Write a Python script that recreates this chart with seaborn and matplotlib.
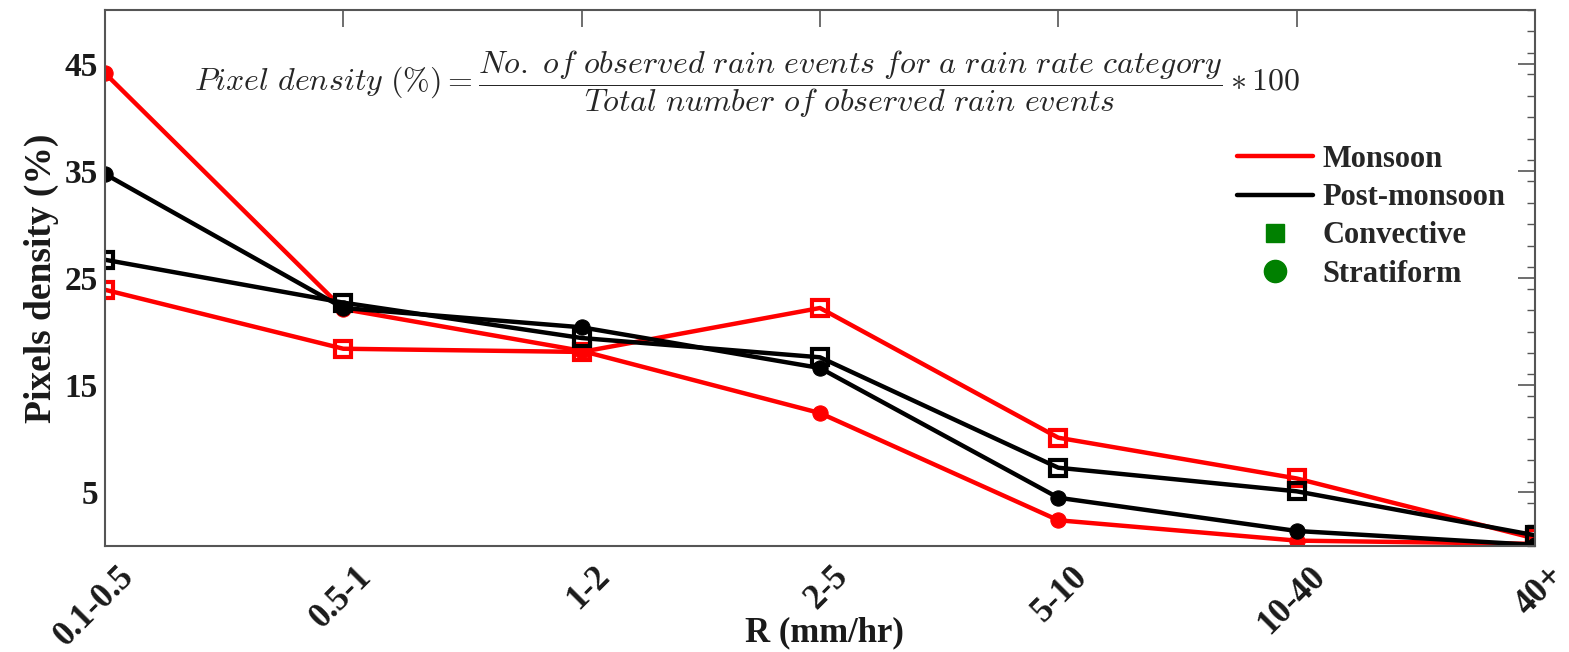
import numpy as np
import pandas as pd
import seaborn as sns
import matplotlib.pyplot as plt
import matplotlib.transforms as mtransforms
from matplotlib.lines import Line2D
from matplotlib.ticker import MultipleLocator

# rain rate categories
categories = ['0.1-0.5', '0.5-1', '1-2', '2-5', '5-10', '10-40', '40+']

# pixel density (%)
monsoon_convective = [23.9, 18.4, 18.1, 22.2, 10.1, 6.3, 0.7]
monsoon_stratiform = [44.1, 22.1, 18.2, 12.4, 2.4, 0.5, 0.2]
post_convective = [26.7, 22.7, 19.4, 17.6, 7.3, 5.1, 1.0]
post_stratiform = [34.7, 22.2, 20.4, 16.6, 4.5, 1.4, 0.1]

series = {
    ('Monsoon', 'Convective'): monsoon_convective,
    ('Monsoon', 'Stratiform'): monsoon_stratiform,
    ('Post-monsoon', 'Convective'): post_convective,
    ('Post-monsoon', 'Stratiform'): post_stratiform,
}

rows = []
for (season, kind), vals in series.items():
    for c, v in zip(categories, vals):
        rows.append({'season': season, 'type': kind, 'R': c, 'density': v})
df = pd.DataFrame(rows)

sns.set_style('white')
plt.rcParams['font.family'] = ['Liberation Serif', 'DejaVu Serif']
plt.rcParams['mathtext.fontset'] = 'cm'

colors = {'Monsoon': '#ff0000', 'Post-monsoon': '#000000'}
txt = '#1a1a1a'

fig = plt.figure(figsize=(15.69, 6.52), dpi=100)
ax = fig.add_axes([0.0669, 0.1626, 0.9114, 0.8221])

for season in ['Monsoon', 'Post-monsoon']:
    for kind in ['Convective', 'Stratiform']:
        sub = df[(df.season == season) & (df.type == kind)]
        if kind == 'Convective':
            sns.lineplot(data=sub, x='R', y='density', ax=ax, color=colors[season],
                         lw=3.2, marker='s', markersize=11, markerfacecolor='none',
                         markeredgecolor=colors[season], markeredgewidth=3,
                         sort=False, legend=False)
        else:
            sns.lineplot(data=sub, x='R', y='density', ax=ax, color=colors[season],
                         lw=3.2, marker='o', markersize=11, markerfacecolor=colors[season],
                         markeredgecolor=colors[season], sort=False, legend=False)

ax.set_xlim(0, 6)
ax.set_ylim(0, 50)
ax.set_yticks([5, 15, 25, 35, 45])
ax.yaxis.set_minor_locator(MultipleLocator(2))
ax.set_xticks(range(len(categories)))
ax.set_xticklabels(categories, rotation=45, ha='right', rotation_mode='anchor',
                   fontsize=25, fontweight='bold', color=txt)
for lab in ax.get_yticklabels():
    lab.set_fontsize(24)
    lab.set_fontweight('bold')
    lab.set_color(txt)

ax.tick_params(axis='both', which='both', direction='in', top=True, right=True,
               color='#555555')
ax.tick_params(axis='both', which='major', length=12, width=1.2, pad=5)
ax.tick_params(axis='y', which='minor', length=6, width=1)
for sp in ax.spines.values():
    sp.set_color('#555555')
    sp.set_linewidth(1.5)

# nudge rotated labels a bit right/down like the original (after tick_params)
shift = mtransforms.ScaledTranslation(0.12, -0.07, fig.dpi_scale_trans)
for lab in ax.get_xticklabels():
    lab.set_transform(lab.get_transform() + shift)

ax.set_xlabel('R (mm/hr)', fontsize=25, fontweight='bold', color=txt, va='center')
ax.xaxis.set_label_coords(0.503, -0.162)
ax.set_ylabel('Pixels density (%)', fontsize=27, fontweight='bold', color=txt, labelpad=4)

formula = (r'$Pixel\ density\ (\%) = \dfrac{No.\ of\ observed\ rain\ events\ for\ a\ rain\ rate\ category}'
           r'{Total\ number\ of\ observed\ rain\ events} * 100$')
ax.text(0.449, 0.862, formula, transform=ax.transAxes, ha='center', va='center', fontsize=23)

handles = [
    Line2D([], [], color='#ff0000', lw=3.2),
    Line2D([], [], color='#000000', lw=3.2),
    Line2D([], [], color='green', marker='s', ls='none', markersize=13),
    Line2D([], [], color='green', marker='o', ls='none', markersize=16),
]
labels = ['Monsoon', 'Post-monsoon', 'Convective', 'Stratiform']
ax.legend(handles, labels, loc='upper left', bbox_to_anchor=(0.7916, 0.748), frameon=False,
          prop={'size': 22, 'weight': 'bold'}, handlelength=2.5, labelspacing=0.3,
          handletextpad=0.3, borderpad=0, borderaxespad=0)

fig.savefig('out.png', dpi=100)
